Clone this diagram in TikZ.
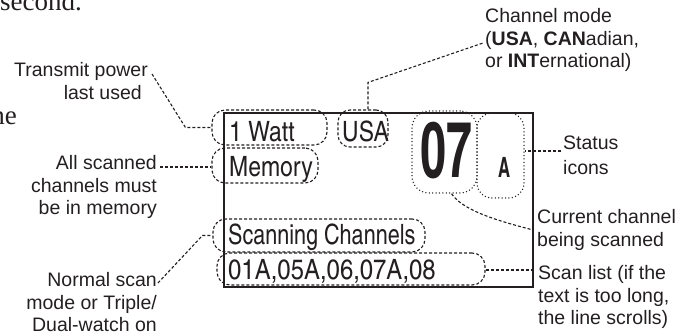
\documentclass[tikz,border=0pt]{standalone}
\usepackage{fontspec}
\setmainfont{Liberation Sans}
\newfontfamily\seriffam{Liberation Serif}
\newfontfamily\dispfam{texgyreheroscn-regular.otf}
\newfontfamily\dispnarrowfam[FakeStretch=0.94]{texgyreheroscn-regular.otf}
\newfontfamily\dispwidefam[FakeStretch=1.04]{texgyreheroscn-regular.otf}
\newfontfamily\dispboldfam[FakeStretch=0.73]{texgyreheroscn-bold.otf}
\usetikzlibrary{calc}
\definecolor{ink}{HTML}{231F20}
\begin{document}
\begin{tikzpicture}[x=1pt,y=-1pt,
  ann/.style={inner sep=0pt, font=\fontsize{19.5}{22.5}\selectfont, text=ink},
  dtext/.style={inner sep=0pt, font=\dispfam\fontsize{28}{30}\selectfont, text=ink, anchor=base west},
  btext/.style={inner sep=0pt, text=ink, anchor=base west},
  dashline/.style={draw=ink, line width=1.1pt, dash pattern=on 3pt off 2pt},
  dotline/.style={draw=ink, line width=1.5pt, dash pattern=on 0pt off 3.4pt, line cap=round},
  outl/.style={dashline, rounded corners=13pt, inner sep=0pt},
  dotoutl/.style={dotline, rounded corners=17pt, inner sep=0pt},
  conn/.style={dashline},
  pagetext/.style={inner sep=0pt, font=\seriffam\fontsize{27}{30}\selectfont, text=ink}
]
\useasboundingbox (0,0) rectangle (688,336);

% partial page text
\node[pagetext, anchor=base west] (sec) at (0,11) {second.};
\node[pagetext, anchor=base east] (ne) at (17,125) {ne};

% display
\node[draw=ink, line width=2pt, minimum width=309pt, minimum height=174pt, inner sep=0pt] (disp) at (378.5,200) {};

% outlines
\node[outl, minimum width=115pt, minimum height=35pt] (wattO) at (269.5,127.5) {};
\node[outl, minimum width=50pt, minimum height=37pt, rounded corners=12pt] (usaO) at (363,128.5) {};
\node[outl, minimum width=106pt, minimum height=35pt] (memO) at (265,165.5) {};
\node[outl, minimum width=212pt, minimum height=33pt] (scanO) at (319,235.5) {};
\node[outl, minimum width=268pt, minimum height=32pt] (listO) at (351,269) {};
\node[dotoutl, minimum width=65pt, minimum height=82pt] (sevenO) at (444.5,152) {};
\node[dotoutl, minimum width=47pt, minimum height=85pt, rounded corners=15pt] (statO) at (500.5,155.5) {};

% display texts
\node[dtext] (watt) at (229,142) {1 Watt};
\node[dtext] (usa) at (342,142) {USA};
\node[dtext] (mem) at (229,177) {Memory};
\node[dtext, font=\dispnarrowfam\fontsize{28}{30}\selectfont] (scan) at (228,245) {Scanning Channels};
\node[dtext, font=\dispwidefam\fontsize{28}{30}\selectfont] (list) at (228,280) {01A,05A,06,07A,08};
\node[btext, font=\dispboldfam\fontsize{78}{80}\selectfont] (seven) at (420,178) {07};
\node[btext, font=\dispboldfam\fontsize{28}{30}\selectfont] (stA) at (498,178) {A};

% annotations (base anchor = last line's baseline)
\node[ann, align=right, anchor=base east] (trans) at (148,99.5) {Transmit power\\last used\hspace*{6pt}};
\node[ann, align=right, anchor=base east] (allsc) at (157,215) {All scanned\\channels must\\be in memory};
\node[ann, align=right, anchor=base east] (norm) at (157,332) {Normal scan\\mode or Triple/\\Dual-watch on};
\node[ann, align=left, anchor=base west] (chan) at (485,68) {Channel mode\\(\textbf{USA}, \textbf{CAN}adian,\\or \textbf{INT}ernational)};
\node[ann, align=left, anchor=base west, font=\fontsize{19.5}{25}\selectfont] (status) at (563,175) {Status\\icons};
\node[ann, align=left, anchor=base west] (cur) at (537,246.5) {Current channel\\being scanned};
\node[ann, align=left, anchor=base west] (scl) at (538,325) {Scan list (if the\\text is too long,\\the line scrolls)};

% connectors
\draw[conn] ([shift={(4,-25.5)}]trans.base east) -- ([shift={(-26,0)}]wattO.west) -- (wattO.west);
\draw[conn] ([shift={(5,0)}]usaO.north) -- ([shift={(5,-27)}]usaO.north) -- ([shift={(-2,-25)}]chan.base west);
\coordinate (stp) at ([shift={(-2,-24)}]status.base west);
\draw[conn] (stp) -- (stp -| statO.east);
\draw[conn] ([shift={(7,0)}]sevenO.south) .. controls +(12,18) and +(-30,-8) .. ([shift={(-4,-16.5)}]cur.base west);
\coordinate (amp) at ([shift={(3,-48)}]allsc.base east);
\draw[conn] (amp) -- (amp -| memO.west);
\draw[conn] ([shift={(1,-49)}]norm.base east) -- ([shift={(-10,0)}]scanO.west) -- (scanO.west);
\coordinate (slp) at ([shift={(-3,-55)}]scl.base west);
\draw[conn] (slp -| listO.east) -- (slp);
\end{tikzpicture}
\end{document}
